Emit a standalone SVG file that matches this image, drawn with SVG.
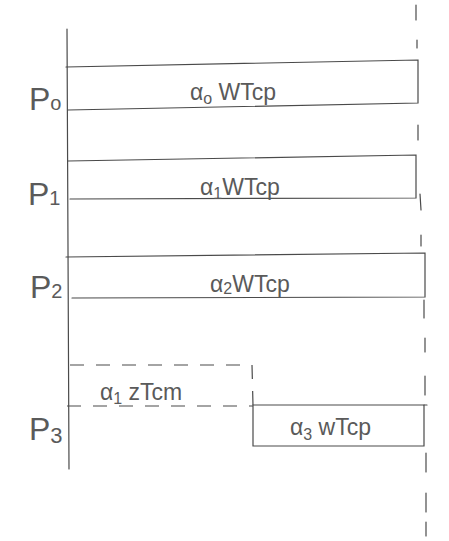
<svg xmlns="http://www.w3.org/2000/svg" width="449" height="541" viewBox="0 0 449 541">
<style>
.ln{stroke:#4a4a4a;stroke-width:1.2;fill:none;stroke-linecap:round}
.ds{stroke:#4a4a4a;stroke-width:1.2;fill:none;stroke-dasharray:14 12}
.lbl{font-family:"Liberation Sans",Arial,sans-serif;fill:#5a5a5a;font-size:23px}
.p{font-family:"Liberation Sans",Arial,sans-serif;fill:#5a5a5a;font-size:32px}
.sub{font-size:16px}
</style>
<rect width="449" height="541" fill="#fff"/>
<g id="axis">
<line class="ln" x1="67" y1="29" x2="69" y2="469"/>
</g>
<g id="deadline">
<line class="ln" x1="416" y1="5" x2="416" y2="20"/>
<line class="ln" x1="417" y1="40" x2="417" y2="48"/>
<line class="ln" x1="418" y1="125" x2="418" y2="140"/>
<line class="ln" x1="420" y1="194" x2="421" y2="210"/>
<line class="ln" x1="421" y1="235" x2="421" y2="246"/>
<line class="ln" x1="424" y1="300" x2="424" y2="318"/>
<line class="ln" x1="425" y1="338" x2="425" y2="352"/>
<line class="ln" x1="425" y1="376" x2="425" y2="395"/>
<line class="ln" x1="426" y1="453" x2="426" y2="472"/>
<line class="ln" x1="426" y1="493" x2="426" y2="512"/>
<line class="ln" x1="426" y1="522" x2="426" y2="536"/>
</g>
<g id="P0">
<path class="ln" d="M66 67 L418 60 L418 103 L68 110"/>
<text class="p" x="29" y="110">P<tspan font-size="20">o</tspan></text>
<text class="lbl" x="190" y="100">α<tspan class="sub" dy="4">o</tspan><tspan dy="-4"> WTcp</tspan></text>
</g>
<g id="P1">
<path class="ln" d="M68 161 L416 155 L416 198 L70 199"/>
<text class="p" x="28" y="205">P<tspan font-size="20">1</tspan></text>
<text class="lbl" x="200" y="195">α<tspan class="sub" dy="4">1</tspan><tspan dy="-4">WTcp</tspan></text>
</g>
<g id="P2">
<path class="ln" d="M66 257 L425 253 L425 297 L72 298"/>
<text class="p" x="30" y="298">P<tspan font-size="20">2</tspan></text>
<text class="lbl" x="210" y="292">α<tspan class="sub" dy="2">2</tspan><tspan dy="-2">WTcp</tspan></text>
</g>
<g id="P3">
<path class="ds" d="M70 365 L252 365 L253 405"/>
<line class="ds" x1="67" y1="406" x2="253" y2="406"/>
<path class="ln" d="M253 405 L424 405 L424 446 L253 446 Z"/>
<line class="ln" x1="424" y1="405" x2="427" y2="405"/>
<text class="p" x="29" y="440">P<tspan font-size="22" dy="3">3</tspan></text>
<text class="lbl" x="100" y="400">α<tspan class="sub" dy="4">1</tspan><tspan dy="-4"> zTcm</tspan></text>
<text class="lbl" x="290" y="435">α<tspan class="sub" dy="5">3</tspan><tspan dy="-5"> wTcp</tspan></text>
</g>
</svg>
